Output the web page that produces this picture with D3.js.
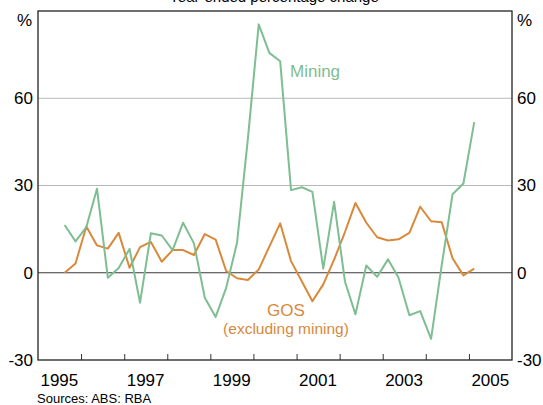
<!DOCTYPE html>
<html>
<head>
<meta charset="utf-8">
<script src="https://cdn.jsdelivr.net/npm/d3@7/dist/d3.min.js"></script>
<style>
  html, body { margin: 0; padding: 0; background: #fff; }
  svg { display: block; font-family: "Liberation Sans", Arial, sans-serif; }
</style>
</head>
<body>
<svg id="chart" width="543" height="405"></svg>
<script>
// Quarterly observations, Sep quarter 1995 to Mar quarter 2005
const firstQuarter = { year: 1995, q: 3 };
const mining = [16.4, 10.8, 15.7, 28.9, -1.7, 1.6, 8.2, -10.3, 13.6, 12.8, 7.8, 17.2,
  10.1, -8.6, -15.2, -5.2, 10.3, 46, 85.4, 75.6, 72.7, 28.4, 29.4, 27.8,
  1.4, 24.4, -3.0, -14.3, 2.5, -1.4, 4.6, -1.7, -14.6, -13.2, -22.7, 2.5,
  27, 30.7, 51.8];
const gos = [0, 3.2, 15.9, 9.4, 8.3, 13.7, 1.7, 8.8, 10.6, 3.8, 7.8, 7.8,
  6.1, 13.3, 11.4, 0.6, -1.9, -2.5, 1.1, 9, 17, 4.0, -3, -9.8,
  -4.0, 4.5, 14, 24, 17.2, 12.2, 11.1, 11.5, 13.7, 22.7, 17.7, 17.4,
  5.0, -0.9, 1.4];
const yTicks = [-30, 0, 30, 60];
const gridValues = [30, 60];
const xLabelYears = [1995, 1997, 1999, 2001, 2003, 2005];
const xTickYears = [1996, 1997, 1998, 1999, 2000, 2001, 2002, 2003, 2004, 2005];

const svg = d3.select("#chart");
const plotLeft = 38, plotRight = 512, plotTop = 11, plotBottom = 360;

const x = d3.scaleTime()
  .domain([new Date(1995, 0, 1), new Date(2006, 0, 1)])
  .range([plotLeft, plotRight]);
const y = d3.scaleLinear().domain([-30, 90]).range([plotBottom, plotTop]);

// each quarter is placed at its midpoint
function quarterMid(i) {
  const idx = (firstQuarter.q - 1) + i;
  const yr = firstQuarter.year + Math.floor(idx / 4);
  const qm = idx % 4;
  return new Date(yr, qm * 3 + 1, 15);
}

const green = "#7fbd92", orange = "#d8893a";
const plainNum = d => String(d); // hyphen-minus for negatives

// gridlines
svg.append("g").selectAll("line").data(gridValues).join("line")
  .attr("x1", plotLeft).attr("x2", plotRight)
  .attr("y1", d => y(d)).attr("y2", d => y(d))
  .attr("stroke", "#b8b8b8").attr("stroke-width", 1);

// zero line
svg.append("line")
  .attr("x1", plotLeft).attr("x2", plotRight)
  .attr("y1", y(0)).attr("y2", y(0))
  .attr("stroke", "#3a3a3a").attr("stroke-width", 1.2);

// x-axis ticks (pointing inward)
const xAxis = d3.axisBottom(x)
  .tickValues(xTickYears.map(yr => new Date(yr, 0, 1)))
  .tickSizeInner(-6).tickSizeOuter(0).tickFormat("");
const gx = svg.append("g").attr("transform", `translate(0,${plotBottom})`).call(xAxis);
gx.select(".domain").remove();
gx.selectAll(".tick line").attr("stroke", "#333");

// x labels at mid-year
svg.append("g").selectAll("text").data(xLabelYears).join("text")
  .attr("x", d => x(new Date(d, 6, 1)))
  .attr("y", 385.5)
  .attr("text-anchor", "middle")
  .attr("font-size", 17)
  .attr("fill", "#000")
  .text(d => d);

// y labels both sides
const yAxisL = d3.axisLeft(y).tickValues(yTicks).tickFormat(plainNum).tickSize(0).tickPadding(5);
const gl = svg.append("g").attr("transform", `translate(${plotLeft},0)`).call(yAxisL);
gl.select(".domain").remove();
gl.selectAll("text").attr("font-size", 17).attr("font-family", "Liberation Sans, Arial, sans-serif").attr("fill", "#000");
const yAxisR = d3.axisRight(y).tickValues(yTicks).tickFormat(plainNum).tickSize(0).tickPadding(5);
const gr = svg.append("g").attr("transform", `translate(${plotRight},0)`).call(yAxisR);
gr.select(".domain").remove();
gr.selectAll("text").attr("font-size", 17).attr("font-family", "Liberation Sans, Arial, sans-serif").attr("fill", "#000");

svg.append("text").attr("x", 32).attr("y", 26).attr("text-anchor", "end")
  .attr("font-size", 17).text("%");
svg.append("text").attr("x", 517).attr("y", 26).attr("text-anchor", "start")
  .attr("font-size", 17).text("%");

// series lines
const line = d3.line()
  .x((d, i) => x(quarterMid(i)))
  .y(d => y(d));

svg.append("path").datum(gos)
  .attr("d", line).attr("fill", "none")
  .attr("stroke", orange).attr("stroke-width", 2).attr("stroke-linejoin", "round");
svg.append("path").datum(mining)
  .attr("d", line).attr("fill", "none")
  .attr("stroke", green).attr("stroke-width", 2).attr("stroke-linejoin", "round");

// frame
svg.append("rect")
  .attr("x", plotLeft).attr("y", plotTop)
  .attr("width", plotRight - plotLeft).attr("height", plotBottom - plotTop)
  .attr("fill", "none").attr("stroke", "#222").attr("stroke-width", 1.3);

// series labels
svg.append("text").attr("x", 290).attr("y", 77).attr("font-size", 17)
  .attr("fill", green).text("Mining");
svg.append("text").attr("x", 286).attr("y", 315.5).attr("text-anchor", "middle")
  .attr("font-size", 17).attr("fill", orange).text("GOS");
svg.append("text").attr("x", 286).attr("y", 333.5).attr("text-anchor", "middle")
  .attr("font-size", 15.5).attr("fill", orange).text("(excluding mining)");

// title (top of page)
svg.append("text").attr("x", 274).attr("y", 2).attr("text-anchor", "middle")
  .attr("font-size", 15).attr("fill", "#000").text("Year-ended percentage change");

// source note
svg.append("text").attr("x", 37).attr("y", 402.5).attr("font-size", 13)
  .attr("fill", "#000").text("Sources: ABS: RBA");
</script>
</body>
</html>
